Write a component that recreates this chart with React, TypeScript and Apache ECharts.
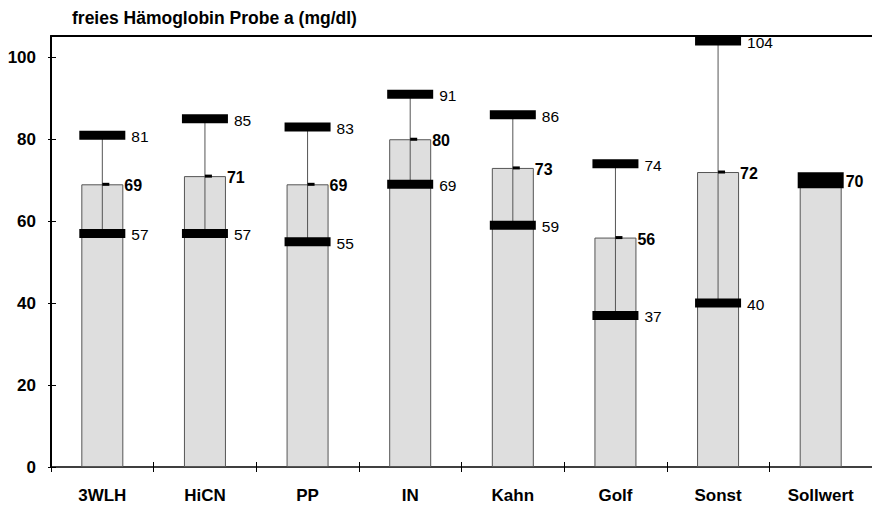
import React, { useEffect, useRef } from "react";
import * as echarts from "echarts";

const titleText = "freies Hämoglobin Probe a (mg/dl)";
const categories = ["3WLH", "HiCN", "PP", "IN", "Kahn", "Golf", "Sonst", "Sollwert"];
const meanValues = [69, 71, 69, 80, 73, 56, 72, 70];
const maxValues: (number | null)[] = [81, 85, 83, 91, 86, 74, 104, null];
const minValues: (number | null)[] = [57, 57, 55, 69, 59, 37, 40, null];
const yTicks = [0, 20, 40, 60, 80, 100];

const FONT = "'Liberation Sans', Arial, Helvetica, sans-serif";

export default function App() {
  const ref = useRef<HTMLDivElement>(null);
  useEffect(() => {
    if (!ref.current) return;
    const chart = echarts.init(ref.current, null, { renderer: "svg" });

    const errData: number[][] = [];
    const refData: number[][] = [];
    categories.forEach((_, i) => {
      const mx = maxValues[i];
      const mn = minValues[i];
      if (mx != null && mn != null) errData.push([i, mn, meanValues[i], mx]);
      else refData.push([i, meanValues[i]]);
    });

    const yAxisBase = {
      type: "value",
      min: yTicks[0],
      max: 105.2,
      interval: 20,
      position: "left",
      splitLine: { show: false },
    };

    const option: any = {
      animation: false,
      title: {
        text: titleText,
        left: 72,
        top: 9,
        padding: 0,
        textStyle: { fontSize: 17.5, fontWeight: "bold", color: "#000", fontFamily: FONT },
      },
      grid: { left: 51, right: -5, top: 36, bottom: 38, containLabel: false },
      xAxis: [
        {
          type: "category",
          data: categories,
          position: "bottom",
          boundaryGap: true,
          axisLine: { lineStyle: { color: "#000", width: 1.5 } },
          axisTick: { show: true, length: 5, lineStyle: { color: "#000", width: 1 } },
          axisLabel: {
            interval: 0,
            margin: 20,
            fontSize: 17,
            fontWeight: "bold",
            color: "#000",
            fontFamily: FONT,
          },
        },
        {
          type: "category",
          data: categories,
          position: "bottom",
          boundaryGap: true,
          axisLine: { show: false },
          axisTick: { show: true, inside: true, length: 5, lineStyle: { color: "#000", width: 1 } },
          axisLabel: { show: false },
        },
        {
          type: "category",
          data: categories,
          position: "top",
          axisLine: { show: true, lineStyle: { color: "#000", width: 2 } },
          axisTick: { show: false },
          axisLabel: { show: false },
        },
      ],
      yAxis: [
        {
          ...yAxisBase,
          axisLine: { show: true, lineStyle: { color: "#000", width: 2 } },
          axisTick: { show: true, length: 3, lineStyle: { color: "#000", width: 1 } },
          axisLabel: {
            margin: 15,
            fontSize: 17,
            fontWeight: "bold",
            color: "#000",
            fontFamily: FONT,
            showMaxLabel: false,
            formatter: (v: number) => (yTicks.includes(v) ? String(v) : ""),
          },
        },
        {
          ...yAxisBase,
          axisLine: { show: false },
          axisTick: { show: true, inside: true, length: 5, lineStyle: { color: "#000", width: 1 } },
          axisLabel: { show: false },
        },
      ],
      series: [
        {
          type: "bar",
          data: meanValues,
          barWidth: 42,
          itemStyle: { color: "#dedede", borderColor: "#555", borderWidth: 1 },
          z: 2,
        },
        {
          type: "custom",
          data: errData,
          z: 3,
          encode: { x: 0, y: [1, 2, 3] },
          renderItem: (params: any, api: any) => {
            const idx = api.value(0);
            const mn = api.value(1);
            const mean = api.value(2);
            const mx = api.value(3);
            const pMin = api.coord([idx, mn]);
            const pMean = api.coord([idx, mean]);
            const pMax = api.coord([idx, mx]);
            const cx = pMean[0];
            const mw = 46;
            const mh = 9;
            return {
              type: "group",
              children: [
                {
                  type: "line",
                  shape: { x1: cx, y1: pMax[1], x2: cx, y2: pMin[1] },
                  style: { stroke: "#555", lineWidth: 1 },
                },
                {
                  type: "rect",
                  shape: { x: cx - mw / 2, y: pMax[1] - mh / 2, width: mw, height: mh },
                  style: { fill: "#000" },
                },
                {
                  type: "rect",
                  shape: { x: cx - mw / 2, y: pMin[1] - mh / 2, width: mw, height: mh },
                  style: { fill: "#000" },
                },
                {
                  type: "rect",
                  shape: { x: cx, y: pMean[1] - 1.5, width: 7, height: 3 },
                  style: { fill: "#000" },
                },
                {
                  type: "text",
                  x: cx + 29,
                  y: pMax[1] + 1.5,
                  style: {
                    text: String(mx),
                    fontSize: 15.5,
                    fontFamily: FONT,
                    fill: "#000",
                    align: "left",
                    verticalAlign: "middle",
                  },
                },
                {
                  type: "text",
                  x: cx + 29,
                  y: pMin[1] + 1.5,
                  style: {
                    text: String(mn),
                    fontSize: 15.5,
                    fontFamily: FONT,
                    fill: "#000",
                    align: "left",
                    verticalAlign: "middle",
                  },
                },
                {
                  type: "text",
                  x: cx + 22,
                  y: pMean[1] + 1.5,
                  style: {
                    text: String(mean),
                    fontSize: 16,
                    fontWeight: "bold",
                    fontFamily: FONT,
                    fill: "#000",
                    align: "left",
                    verticalAlign: "middle",
                  },
                },
              ],
            };
          },
        },
        {
          type: "custom",
          data: refData,
          z: 3,
          encode: { x: 0, y: 1 },
          renderItem: (params: any, api: any) => {
            const idx = api.value(0);
            const v = api.value(1);
            const p = api.coord([idx, v]);
            const cx = p[0];
            return {
              type: "group",
              children: [
                {
                  type: "rect",
                  shape: { x: cx - 23, y: p[1] - 8, width: 46, height: 16 },
                  style: { fill: "#000" },
                },
                {
                  type: "text",
                  x: cx + 25,
                  y: p[1] + 1.5,
                  style: {
                    text: String(v),
                    fontSize: 16,
                    fontWeight: "bold",
                    fontFamily: FONT,
                    fill: "#000",
                    align: "left",
                    verticalAlign: "middle",
                  },
                },
              ],
            };
          },
        },
      ],
    };

    chart.setOption(option);
    return () => chart.dispose();
  }, []);

  return <div ref={ref} style={{ width: 872, height: 505, position: "absolute", left: 0, top: 0 }} />;
}
